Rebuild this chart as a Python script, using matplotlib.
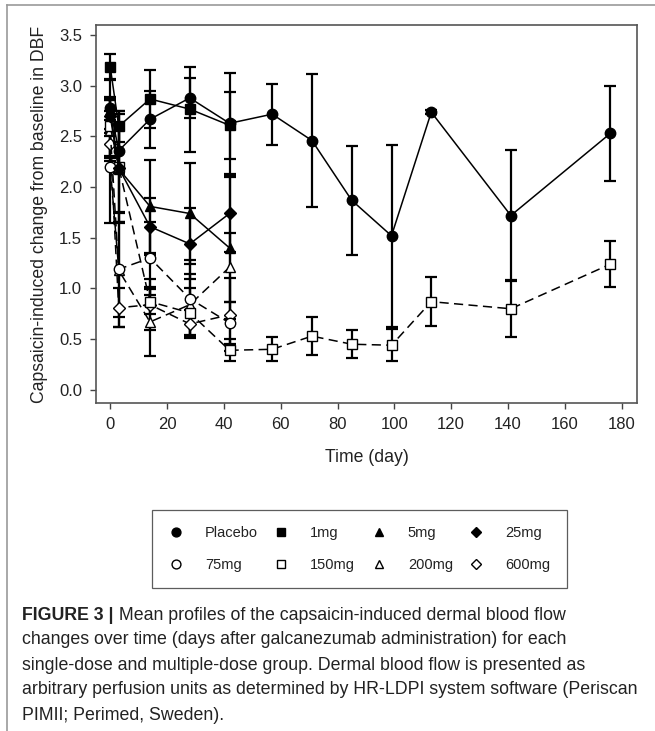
import matplotlib
matplotlib.use("Agg")
import matplotlib.pyplot as plt
from matplotlib.lines import Line2D
from matplotlib.text import Annotation

plt.rcParams['font.family'] = ['Liberation Sans', 'DejaVu Sans']

# ------------ Data ------------
days_short = [0, 3, 14, 28, 42]
days_long = [0, 3, 14, 28, 42, 57, 71, 85, 99, 113, 141, 176]

placebo = [2.78, 2.36, 2.67, 2.88, 2.63, 2.72, 2.46, 1.87, 1.52, 2.74, 1.72, 2.53]
placebo_err = [0.28, 0.22, 0.28, 0.20, 0.50, 0.30, 0.66, 0.54, 0.90, 0.02, 0.65, 0.47]

mg1 = [3.19, 2.60, 2.87, 2.77, 2.61]
mg1_err = [0.12, 0.15, 0.29, 0.42, 0.33]
mg5 = [2.76, 2.18, 1.81, 1.74, 1.40]
mg5_err = [0.10, 0.43, 0.46, 0.50, 0.70]
mg25 = [2.70, 2.19, 1.61, 1.44, 1.74]
mg25_err = [0.17, 0.53, 0.28, 0.35, 0.38]
mg75 = [2.20, 1.19, 1.30, 0.90, 0.66]
mg75_err = [0.55, 0.47, 0.36, 0.38, 0.21]
mg150 = [2.60, 2.20, 0.87, 0.76, 0.39, 0.40, 0.53, 0.45, 0.44, 0.87, 0.80, 1.24]
mg150_err = [0.29, 0.55, 0.12, 0.24, 0.11, 0.12, 0.19, 0.14, 0.16, 0.24, 0.28, 0.23]
mg200 = [2.56, 1.18, 0.67, 0.84, 1.21]
mg200_err = [0.30, 0.56, 0.34, 0.30, 0.34]
mg600 = [2.43, 0.81, 0.84, 0.65, 0.74]
mg600_err = [0.14, 0.19, 0.25, 0.14, 0.36]

x_ticks = [0, 20, 40, 60, 80, 100, 120, 140, 160, 180]
y_ticks = [0.0, 0.5, 1.0, 1.5, 2.0, 2.5, 3.0, 3.5]

caption_lines = [
    "changes over time (days after galcanezumab administration) for each",
    "single-dose and multiple-dose group. Dermal blood flow is presented as",
    "arbitrary perfusion units as determined by HR-LDPI system software (Periscan",
    "PIMII; Perimed, Sweden).",
]

# ------------ Series styles ------------
SOLID = '-'
DASH = (0, (6, 3.5))
series = [
    ("Placebo", days_long, placebo, placebo_err, 'o', 'black', SOLID),
    ("1mg", days_short, mg1, mg1_err, 's', 'black', SOLID),
    ("5mg", days_short, mg5, mg5_err, '^', 'black', SOLID),
    ("25mg", days_short, mg25, mg25_err, 'D', 'black', SOLID),
    ("75mg", days_short, mg75, mg75_err, 'o', 'white', DASH),
    ("150mg", days_long, mg150, mg150_err, 's', 'white', DASH),
    ("200mg", days_short, mg200, mg200_err, '^', 'white', DASH),
    ("600mg", days_short, mg600, mg600_err, 'D', 'white', DASH),
]
msize = {'o': 7.5, 's': 7, '^': 7.5, 'D': 6}

fig = plt.figure(figsize=(6.55, 7.31), dpi=100)
ax = fig.add_axes([96/655, 1 - 403/731, (637-96)/655, (403-25)/731])

for name, x, y, e, m, fc, ls in series:
    ax.errorbar(x, y, yerr=e, fmt='none', ecolor='black', elinewidth=1.6,
                capsize=4.5, capthick=1.6, zorder=2)
for name, x, y, e, m, fc, ls in reversed(series):
    ax.plot(x, y, color='black', lw=1.1, ls=ls, marker=m, ms=msize[m],
            mfc=fc, mec='black', mew=1.0, zorder=3)

ax.set_xlim(-5, 185.4)
ax.set_ylim(-0.13, 3.60)
ax.set_xticks(x_ticks)
ax.set_yticks(y_ticks)
ax.set_yticklabels([f"{v:.1f}" for v in y_ticks])
ax.tick_params(direction='out', length=4, width=1.0, color='#444444',
               labelsize=12, pad=6, labelcolor='#222222')
for s in ax.spines.values():
    s.set_color('#555555')
    s.set_linewidth(1.2)
ax.set_xlabel("Time (day)", fontsize=12.7, labelpad=12, color='#222222')
ax.set_ylabel("Capsaicin-induced change from baseline in DBF", fontsize=12.7,
              labelpad=8, color='#222222')

# ------------ Legend ------------
handles = {}
for name, x, y, e, m, fc, ls in series:
    handles[name] = Line2D([0], [0], ls='None', marker=m, ms=msize[m] * 0.85,
                           mfc=fc, mec='black', mew=1.0, label=name)
order = ["Placebo", "75mg", "1mg", "150mg", "5mg", "200mg", "25mg", "600mg"]
leg = fig.legend([handles[k] for k in order], order, ncol=4, loc='center',
                 bbox_to_anchor=((148 + 571) / 2 / 655, 1 - 549 / 731),
                 fontsize=10.5, frameon=True, fancybox=False, edgecolor='#333333',
                 handlelength=1.0, handletextpad=1.5, columnspacing=1.1,
                 labelspacing=1.25, borderpad=1.1)
leg.get_frame().set_linewidth(0.9)
for t in leg.get_texts():
    t.set_color('#222222')

# ------------ Page frame and caption ------------
fig.add_artist(Line2D([7/655, 1], [1 - 5/731, 1 - 5/731], color='#999999', lw=1.2))
fig.add_artist(Line2D([7/655, 7/655], [0, 1 - 5/731], color='#999999', lw=1.2))

t0 = fig.text(22/655, 1 - 615/731, "FIGURE 3 |", fontsize=12.8, weight='bold',
              color='#222222', va='center')
fig.add_artist(Annotation(
    " Mean profiles of the capsaicin-induced dermal blood flow",
    xy=(1, 0.5), xycoords=t0, va='center', fontsize=12.8, color='#222222'))
for i, line in enumerate(caption_lines):
    fig.text(22/655, 1 - (640 + 25 * i)/731, line, fontsize=12.8,
             color='#222222', va='center')

fig.savefig("out.png", dpi=100)
